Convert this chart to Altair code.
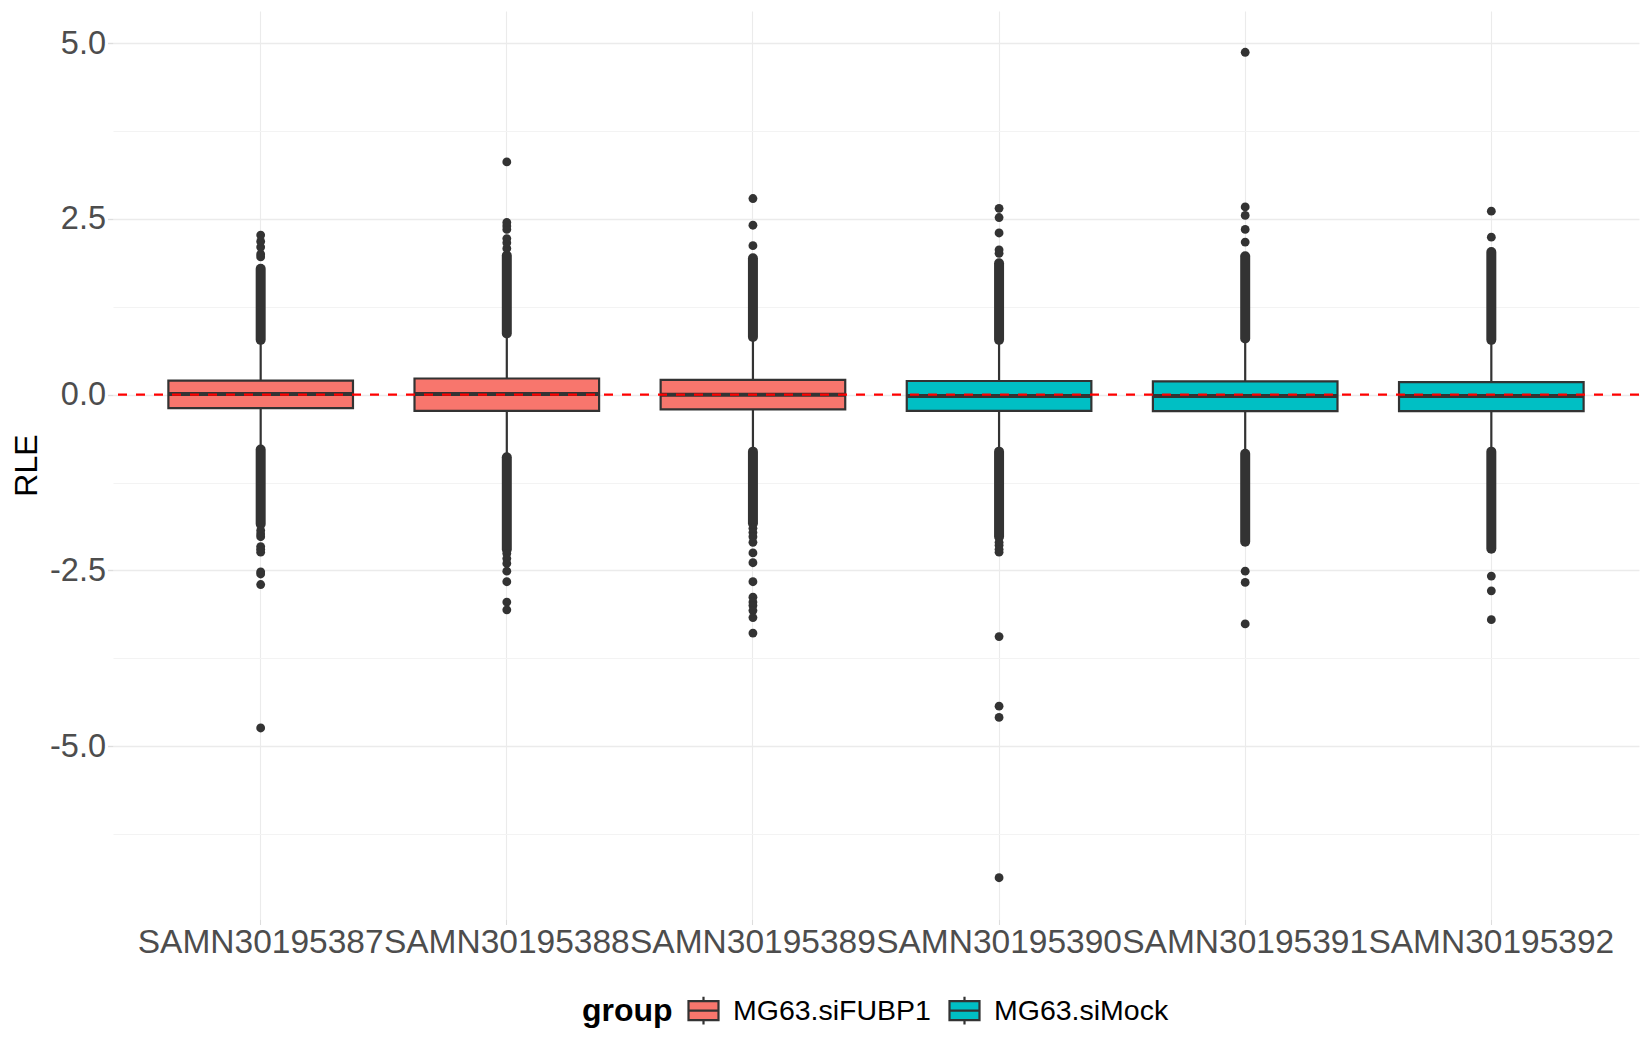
import altair as alt
import pandas as pd

FONT = "Liberation Sans"

# ---------------- data ----------------
samples = ["SAMN30195387", "SAMN30195388", "SAMN30195389",
           "SAMN30195390", "SAMN30195391", "SAMN30195392"]
groups = ["MG63.siFUBP1", "MG63.siFUBP1", "MG63.siFUBP1",
          "MG63.siMock", "MG63.siMock", "MG63.siMock"]
group_levels = ["MG63.siFUBP1", "MG63.siMock"]
group_colors = ["#F8766D", "#00BFC4"]

q1 = [-0.19, -0.23, -0.21, -0.23, -0.235, -0.235]
median = [0.01, 0.01, 0.00, -0.02, -0.02, -0.02]
q3 = [0.20, 0.23, 0.21, 0.195, 0.19, 0.18]
whisker_low = [-0.76, -0.86, -0.79, -0.79, -0.82, -0.79]
whisker_high = [0.76, 0.85, 0.80, 0.76, 0.78, 0.76]

# ranges where outliers are packed so densely they form a solid column
upper_dense_low = [0.78, 0.87, 0.82, 0.78, 0.80, 0.78]
upper_dense_high = [1.79, 1.98, 1.94, 1.87, 1.97, 2.03]
lower_dense_high = [-0.78, -0.89, -0.81, -0.81, -0.84, -0.81]
lower_dense_low = [-1.84, -2.20, -1.83, -2.02, -2.09, -2.19]

# individually visible outliers
upper_outliers = [
    [1.96, 2.00, 2.10, 2.18, 2.27],
    [2.08, 2.16, 2.22, 2.35, 2.40, 2.45, 3.31],
    [2.12, 2.41, 2.79],
    [2.01, 2.06, 2.30, 2.52, 2.65],
    [2.17, 2.35, 2.55, 2.67, 4.87],
    [2.24, 2.61],
]
lower_outliers = [
    [-1.93, -1.98, -2.02, -2.16, -2.20, -2.24, -2.52, -2.55, -2.70, -4.74],
    [-2.26, -2.33, -2.40, -2.51, -2.66, -2.95, -3.06],
    [-1.90, -1.96, -2.02, -2.10, -2.25, -2.39, -2.66, -2.88, -2.95, -3.00,
     -3.07, -3.17, -3.39],
    [-2.10, -2.14, -2.20, -2.24, -3.44, -4.43, -4.59, -6.87],
    [-2.51, -2.67, -3.26],
    [-2.58, -2.79, -3.20],
]

reference_line = [0.0]
y_ticks = [-6.25, -5.0, -3.75, -2.5, -1.25, 0.0, 1.25, 2.5, 3.75, 5.0]
y_axis_title = "RLE"
legend_title = "group"

# ---------------- tables ----------------
box_df = pd.DataFrame({"sample": samples, "group": groups, "q1": q1,
                       "median": median, "q3": q3,
                       "wlo": whisker_low, "whi": whisker_high})

dense_rows = []
for i, s in enumerate(samples):
    dense_rows.append({"sample": s, "lo": upper_dense_low[i], "hi": upper_dense_high[i]})
    dense_rows.append({"sample": s, "lo": lower_dense_low[i], "hi": lower_dense_high[i]})
dense_df = pd.DataFrame(dense_rows)

out_rows = []
for i, s in enumerate(samples):
    for v in upper_outliers[i] + lower_outliers[i]:
        out_rows.append({"sample": s, "value": v})
out_df = pd.DataFrame(out_rows)

ref_df = pd.DataFrame({"value": reference_line})

# y domain: ggplot-style 5% expansion of the data range
all_vals = [v for lst in upper_outliers + lower_outliers for v in lst]
lo_all, hi_all = min(all_vals), max(all_vals)
pad = 0.05 * (hi_all - lo_all)
y_domain = [lo_all - pad, hi_all + pad]

# ---------------- encodings ----------------
x_enc = alt.X(
    "sample:N",
    scale=alt.Scale(domain=samples, paddingInner=0.25, paddingOuter=0.225),
    axis=alt.Axis(
        title=None, labelAngle=0, labelFont=FONT, labelFontSize=33.5,
        labelColor="#4D4D4D", labelOverlap=False, labelBound=False,
        labelFlush=False, labelLimit=1000, labelPadding=1.5, bandPosition=0.5,
        grid=True, gridColor="#EBEBEB", gridWidth=1.1,
        ticks=True, tickColor="#DDDDDD", tickSize=5.5, tickWidth=1.1,
        domain=False,
    ),
)

major_test = "abs(datum.value % 2.5) < 0.01"
y_axis = alt.Axis(
    values=y_ticks,
    labelExpr=("abs(datum.value % 2.5) < 0.01 ? (datum.value < 0 ? '-' + "
               "format(-datum.value, '.1f') : format(datum.value, '.1f')) : ''"),
    labelFont=FONT, labelFontSize=32.5, labelColor="#4D4D4D", labelPadding=2,
    labelLimit=1000,
    gridColor={"condition": {"test": major_test, "value": "#EBEBEB"}, "value": "#F3F3F3"},
    gridWidth={"condition": {"test": major_test, "value": 1.6}, "value": 1.0},
    tickColor={"condition": {"test": major_test, "value": "#DDDDDD"}, "value": "transparent"},
    tickSize=5.5, tickWidth=1.4, domain=False,
    titleFont=FONT, titleFontSize=32, titleColor="black", titleFontWeight="normal",
    titlePadding=6,
)
y_scale = alt.Scale(domain=y_domain, nice=False, zero=False)


def y_enc(field):
    return alt.Y(field, type="quantitative", scale=y_scale, axis=y_axis, title=y_axis_title)


legend_symbol = ("M-1,-0.63H1V0.63H-1Z M-1,0H1 M0,-0.63V-0.93 M0,0.63V0.93")

fill_enc = alt.Fill(
    "group:N",
    scale=alt.Scale(domain=group_levels, range=group_colors),
    legend=alt.Legend(
        title=legend_title, orient="none", legendX=469, legendY=983,
        direction="horizontal", titleOrient="left",
        symbolType=legend_symbol, symbolSize=900,
        symbolStrokeColor="#333333", symbolStrokeWidth=2.2, symbolOpacity=1,
        labelFont=FONT, labelFontSize=28.5, labelColor="black", labelOffset=13,
        labelLimit=1000,
        titleFont=FONT, titleFontSize=32, titleColor="black", titleFontWeight="bold",
        titlePadding=14, columnPadding=14, padding=0,
    ),
)

# ---------------- layers ----------------
whiskers = alt.Chart(box_df).mark_rule(color="#333333", strokeWidth=2.2).encode(
    x=x_enc, y=y_enc("wlo"), y2="whi")

dense = alt.Chart(dense_df).mark_rule(
    color="#333333", strokeWidth=10, strokeCap="round").encode(
    x=x_enc, y=y_enc("lo"), y2="hi")

points = alt.Chart(out_df).mark_circle(size=78, color="#333333", opacity=1).encode(
    x=x_enc, y=y_enc("value"))

boxes = alt.Chart(box_df).mark_bar(stroke="#333333", strokeWidth=2.2, opacity=1).encode(
    x=x_enc, y=y_enc("q1"), y2="q3", fill=fill_enc)

medians = alt.Chart(box_df).mark_tick(
    color="#333333", thickness=4, size=185, orient="horizontal", opacity=1).encode(
    x=x_enc, y=y_enc("median"))

ref = alt.Chart(ref_df).mark_rule(
    color="#FF0000", strokeDash=[9, 9], strokeWidth=2.3).encode(y=y_enc("value"))

chart = alt.layer(whiskers, dense, points, boxes, medians, ref).properties(
    width=1526, height=908,
    autosize=alt.AutoSizeParams(type="none"),
    padding={"left": 105, "top": 3, "right": 3, "bottom": 123},
    background="white",
).configure_view(stroke=None)

chart.save("out.html", embed_options={"renderer": "svg", "actions": False})
